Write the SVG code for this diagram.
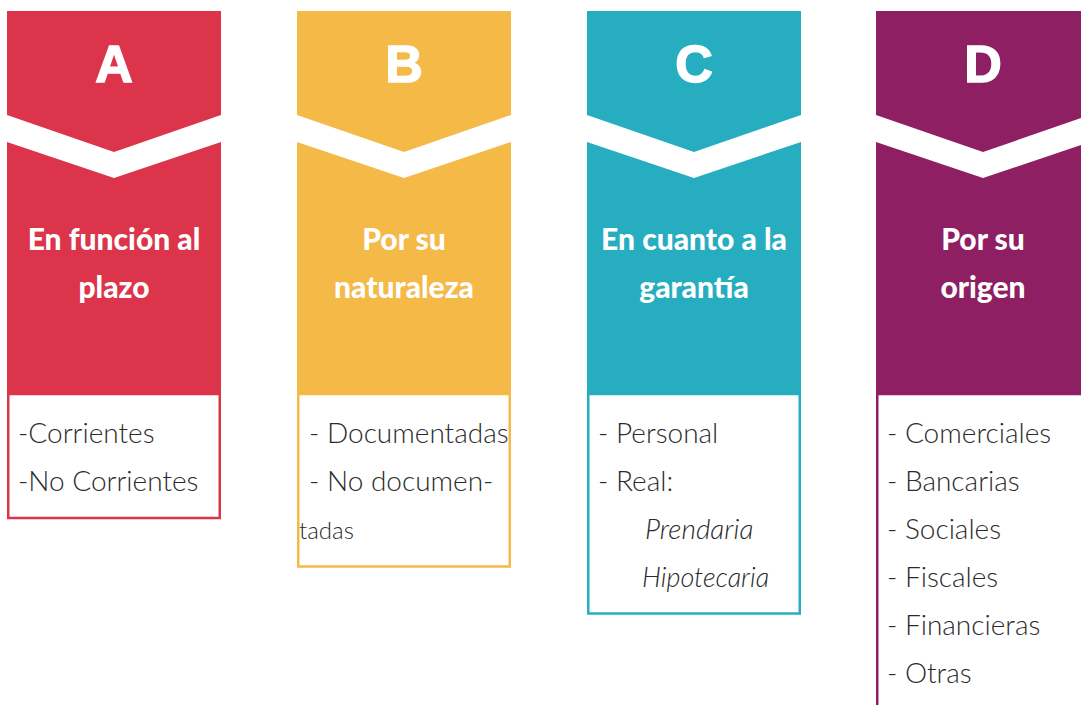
<svg xmlns="http://www.w3.org/2000/svg" width="1081" height="705" viewBox="0 0 1081 705">
<style>
.letter{font-family:"Liberation Sans",Arial,sans-serif;font-weight:700;font-size:52px;fill:#fff;stroke:#fff;stroke-width:1.5;text-anchor:middle}
.head{font-family:Lato,"Liberation Sans",sans-serif;font-weight:900;font-size:30px;fill:#fff;text-anchor:middle}
.body{font-family:Lato,"Liberation Sans",sans-serif;font-weight:300;font-size:28px;fill:#2b2b2b}
.it{font-style:italic}
.box{fill:#fff;stroke-width:2.5}
</style>
<rect width="1081" height="705" fill="#fff"/>
<g id="colA">
<path d="M7 11H221V115L114 152L7 115Z" fill="#DC354B"/>
<path d="M7 142L114 178L221 142V395H7Z" fill="#DC354B"/>
<rect class="box" x="8.25" y="394" width="211.5" height="124" stroke="#DC354B"/>
<text class="letter" x="114" y="82">A</text>
<text class="head" x="114" y="250">En función al</text>
<text class="head" x="114" y="298">plazo</text>
<text class="body" x="18" y="443">-Corrientes</text>
<text class="body" x="18" y="491">-No Corrientes</text>
</g>
<g id="colB">
<path d="M297 11H511V115L404 152L297 115Z" fill="#F4B947"/>
<path d="M297 142L404 178L511 142V395H297Z" fill="#F4B947"/>
<rect class="box" x="298.25" y="394" width="211.5" height="172.5" stroke="#F4B947"/>
<text class="letter" x="404" y="82">B</text>
<text class="head" x="404" y="250">Por su</text>
<text class="head" x="404" y="298">naturaleza</text>
<text class="body" x="309" y="443">- Documentadas</text>
<text class="body" x="309" y="491">- No documen-</text>
<text class="body" x="299" y="539" style="font-size:24px">tadas</text>
</g>
<g id="colC">
<path d="M587 11H801V115L694 152L587 115Z" fill="#27ADC0"/>
<path d="M587 142L694 178L801 142V395H587Z" fill="#27ADC0"/>
<rect class="box" x="588.25" y="394" width="211.5" height="219.5" stroke="#27ADC0"/>
<text class="letter" x="694" y="82">C</text>
<text class="head" x="694" y="250">En cuanto a la</text>
<text class="head" x="694" y="298">garantía</text>
<text class="body" x="598" y="443">- Personal</text>
<text class="body" x="598" y="491">- Real:</text>
<text class="body it" x="645" y="539">Prendaria</text>
<text class="body it" x="642" y="587" style="font-size:27px">Hipotecaria</text>
</g>
<g id="colD">
<path d="M876 11H1090V115L983 152L876 115Z" fill="#8E1F62"/>
<path d="M876 142L983 178L1090 142V395H876Z" fill="#8E1F62"/>
<rect class="box" x="877.25" y="394" width="211.5" height="330" stroke="#8E1F62"/>
<text class="letter" x="983" y="82">D</text>
<text class="head" x="983" y="250">Por su</text>
<text class="head" x="983" y="298">origen</text>
<text class="body" x="887" y="443">- Comerciales</text>
<text class="body" x="887" y="491">- Bancarias</text>
<text class="body" x="887" y="539">- Sociales</text>
<text class="body" x="887" y="587">- Fiscales</text>
<text class="body" x="887" y="635">- Financieras</text>
<text class="body" x="887" y="683">- Otras</text>
</g>
<g id="connectors"></g>
</svg>
